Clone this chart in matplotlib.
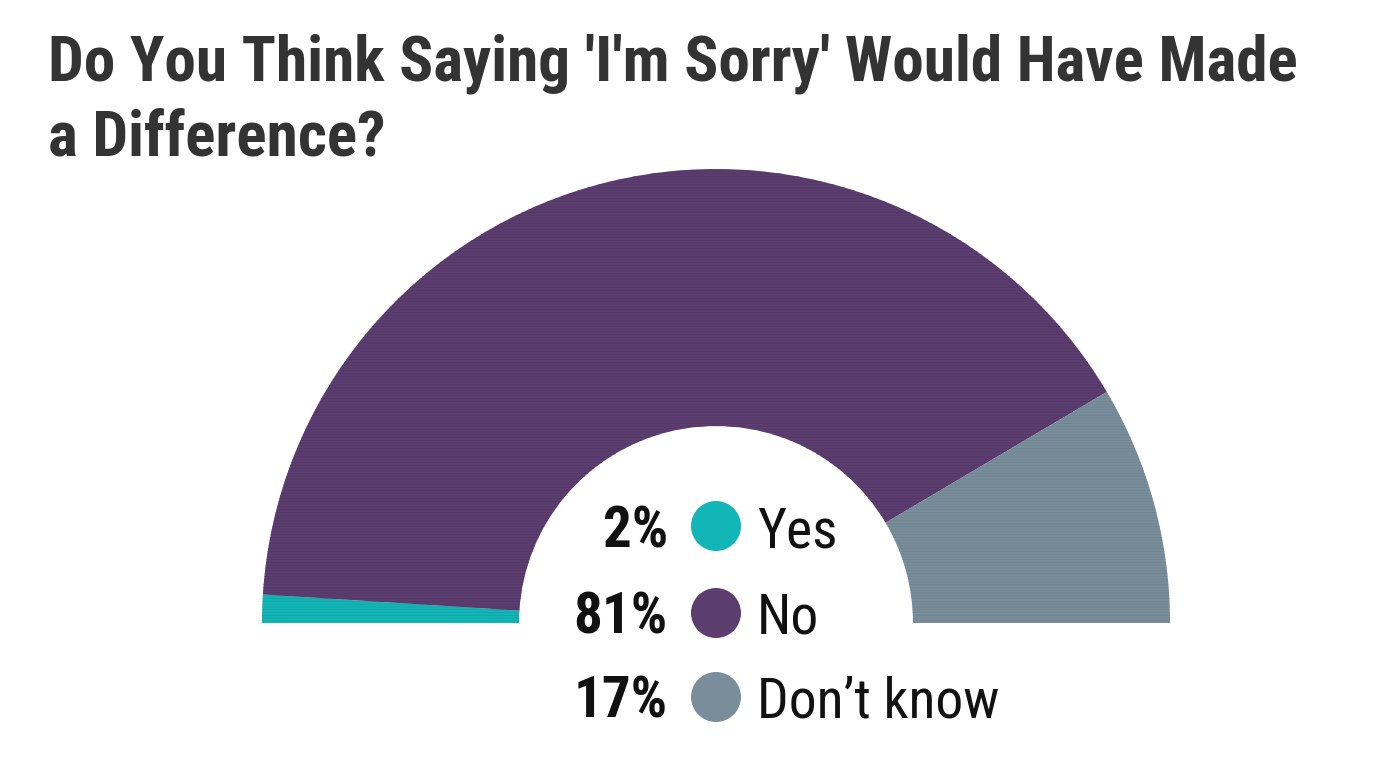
import matplotlib
matplotlib.use("Agg")
import matplotlib.pyplot as plt
from matplotlib import font_manager
from matplotlib.patches import Circle

# Survey data
labels = ["Yes", "No", "Don\u2019t know"]
shares = [2, 81, 17]
colors = ["#13b6b7", "#5b3d6e", "#798e9a"]
texture = ["#10a6a7", "#54386a", "#6f8591"]

title_lines = ["Do You Think Saying 'I'm Sorry' Would Have Made", "a Difference?"]

# pick a condensed font if one is around
installed = {f.name for f in font_manager.fontManager.ttflist}
FONT = "Roboto"
for name in ["Roboto Condensed", "Liberation Sans Narrow"]:
    if name in installed:
        FONT = name
        break

plt.rcParams["hatch.linewidth"] = 0.6

fig = plt.figure(figsize=(13.8, 7.64), dpi=100)
ax = fig.add_axes([0, 0, 1, 1])

# half donut: an invisible slice takes the bottom half
wedges, _ = ax.pie(
    shares + [sum(shares)],
    colors=colors + ["none"],
    startangle=180,
    counterclock=False,
    radius=454,
    center=(716, 141),
    wedgeprops=dict(width=257, linewidth=0),
)
# faint horizontal grain like the original
for w, tc in zip(wedges[:3], texture):
    w.set_hatch("------")
    w.set_edgecolor(tc)
    w.set_linewidth(0)

ax.set_xlim(0, 1380)
ax.set_ylim(0, 764)
ax.set_aspect("equal")
ax.axis("off")

# Title
ax.text(48, 764 - 80, title_lines[0], fontsize=45.5, fontweight="bold",
        color="#333333", family=FONT, ha="left", va="baseline")
ax.text(48, 764 - 155, title_lines[1], fontsize=45.5, fontweight="bold",
        color="#333333", family=FONT, ha="left", va="baseline")

# Legend in the hole
rows = [217, 130, 46]
for lab, val, col, y in zip(labels, shares, colors, rows):
    ax.text(668, y, f"{val}%", fontsize=41, fontweight="bold", color="#111111",
            family=FONT, ha="right", va="baseline")
    ax.add_patch(Circle((716, y + 21), 25, color=col, linewidth=0))
    ax.text(757, y, lab, fontsize=40, color="#111111",
            family=FONT, ha="left", va="baseline")

fig.savefig("out.png", dpi=100)
